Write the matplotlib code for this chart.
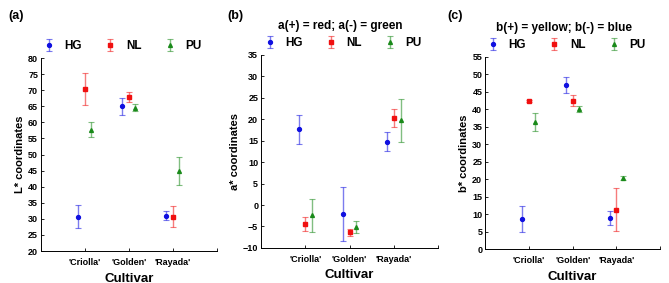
import numpy as np
import matplotlib
matplotlib.use("Agg")
import matplotlib.pyplot as plt
from matplotlib.colors import to_rgba

plt.rcParams['font.family'] = ['Liberation Sans', 'DejaVu Sans']
plt.rcParams['font.weight'] = 'bold'

cultivars = ["'Criolla'", "'Golden'", "'Rayada'"]
groups = ['HG', 'NL', 'PU']

# L* means and error bar ends (low, high)
L_mean = {'HG': [30.5, 65.0, 31.0], 'NL': [70.3, 67.8, 30.7], 'PU': [57.6, 64.5, 44.8]}
L_low = {'HG': [27.2, 62.4, 29.6], 'NL': [65.3, 66.2, 27.4], 'PU': [55.3, 63.4, 40.5]}
L_high = {'HG': [34.2, 67.6, 32.5], 'NL': [75.4, 69.4, 34.0], 'PU': [60.1, 65.7, 49.2]}

a_mean = {'HG': [17.7, -2.1, 14.8], 'NL': [-4.4, -6.4, 20.3], 'PU': [-2.4, -5.2, 19.8]}
a_low = {'HG': [14.3, -8.4, 12.5], 'NL': [-6.1, -7.3, 18.2], 'PU': [-6.3, -6.6, 14.8]}
a_high = {'HG': [21.0, 4.1, 17.1], 'NL': [-2.8, -5.5, 22.3], 'PU': [1.5, -3.7, 24.7]}

b_mean = {'HG': [8.6, 47.0, 9.0], 'NL': [42.4, 42.5, 11.3], 'PU': [36.3, 40.0, 20.3]}
b_low = {'HG': [4.9, 44.8, 7.0], 'NL': [42.1, 40.8, 5.1], 'PU': [33.8, 39.2, 19.7]}
b_high = {'HG': [12.2, 49.2, 11.0], 'NL': [42.7, 44.2, 17.4], 'PU': [38.8, 40.8, 20.9]}

colors = {'HG': '#1010e0', 'NL': '#f01010', 'PU': '#1a8a1a'}
markers = {'HG': 'o', 'NL': 's', 'PU': '^'}
offsets = {'HG': -0.15, 'NL': 0.0, 'PU': 0.15}

panels = [
    ('(a)', None, 'L* coordinates', L_mean, L_low, L_high, (20, 80), np.arange(20, 81, 5),
     [0.061, 0.113, 0.263, 0.682]),
    ('(b)', 'a(+) = red; a(-) = green', 'a* coordinates', a_mean, a_low, a_high, (-10, 35),
     np.arange(-10, 36, 5), [0.390, 0.124, 0.265, 0.682]),
    ('(c)', 'b(+) = yellow; b(-) = blue', 'b* coordinates', b_mean, b_low, b_high, (0, 55),
     np.arange(0, 56, 5), [0.725, 0.120, 0.262, 0.679]),
]

fig = plt.figure(figsize=(6.69, 2.83), dpi=100)
panel_x = [0.012, 0.340, 0.668]

for (tag, title, ylab, mean, low, high, ylim, yticks, pos), px in zip(panels, panel_x):
    ax = fig.add_axes(pos)
    x = np.arange(1, 4)
    for g in groups:
        m = np.array(mean[g])
        err = [m - np.array(low[g]), np.array(high[g]) - m]
        ax.errorbar(x + offsets[g], m, yerr=err, fmt=markers[g], color=colors[g],
                    ecolor=to_rgba(colors[g], 0.55), elinewidth=1.0, capsize=2,
                    capthick=0.8, markersize=2.8, label=g)
    ax.set_xlim(0, 4)
    ax.set_ylim(*ylim)
    ax.set_yticks(yticks)
    ax.set_xticks([0, 1, 2, 3, 4])
    ax.set_xticklabels([''] + cultivars + [''])
    ax.tick_params(direction='in', length=2, width=0.6, labelsize=6.5)
    ax.tick_params(axis='x', pad=5)
    ax.tick_params(axis='y', pad=2)
    for lbl in ax.get_xticklabels() + ax.get_yticklabels():
        lbl.set_fontweight('bold')
    ax.spines['top'].set_visible(False)
    ax.spines['right'].set_visible(False)
    ax.spines['left'].set_linewidth(0.7)
    ax.spines['bottom'].set_linewidth(0.7)
    ax.set_xlabel('Cultivar', fontsize=9.5, fontweight='bold', labelpad=4)
    ax.set_ylabel(ylab, fontsize=8, fontweight='bold', labelpad=2)
    ax.legend(loc='lower center', bbox_to_anchor=(0.45, 1.0), ncol=3, frameon=False,
              prop={'size': 8.5, 'weight': 'bold'}, handlelength=1.8, columnspacing=1.5,
              handletextpad=0.4, borderaxespad=0.1)
    if title:
        ax.text(0.45, 1.12, title, transform=ax.transAxes, ha='center', va='bottom',
                fontsize=8.5, fontweight='bold')
    fig.text(px, 0.945, tag, fontsize=9, fontweight='bold', va='center')

fig.savefig('out.png', dpi=100)
